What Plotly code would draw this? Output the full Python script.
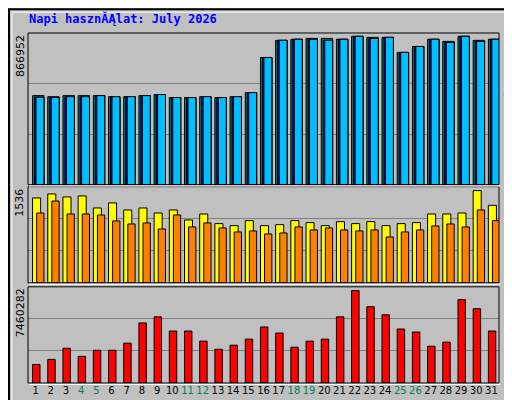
import plotly.graph_objects as go

days = list(range(1, 32))
weekend = [4, 5, 11, 12, 18, 19, 25, 26]
hits = [509000, 503000, 509000, 509000, 509000, 503000, 503000, 509000, 515000, 498000, 498000, 503000, 498000, 503000, 526000,
        727000, 825000, 831000, 836000, 836000, 831000, 848000, 842000, 842000, 756000, 790000, 831000, 819000, 848000, 825000, 831000]
files = [500000, 498000, 503000, 503000, 509000, 503000, 503000, 509000, 515000, 498000, 498000, 503000, 498000, 503000, 526000,
         727000, 825000, 831000, 831000, 825000, 831000, 848000, 836000, 842000, 756000, 790000, 831000, 813000, 848000, 819000, 831000]
visits = [1356, 1420, 1372, 1388, 1196, 1276, 1164, 1196, 1116, 1164, 1004, 1100, 946, 914, 994, 914, 930, 994, 962, 914, 978, 946, 978, 914, 946, 962, 1100, 1100, 1116, 1473, 1238]
pages = [1116, 1307, 1100, 1100, 1084, 989, 941, 957, 861, 1084, 893, 957, 877, 813, 829, 781, 797, 893, 845, 877, 845, 829, 845, 733, 813, 845, 909, 941, 893, 1164, 994]
kbytes = [1439000, 1832000, 2696000, 2068000, 2539000, 2539000, 3089000, 4660000, 5131000, 4031000, 4031000, 3246000, 2618000, 2932000, 3403000, 4346000, 3875000, 2775000, 3246000, 3403000, 5131000, 7172000, 5917000, 5288000, 4188000, 3953000, 2853000, 3168000, 6465000, 5760000, 4031000]
max_top, max_mid, max_bot = 866952, 1536, 7460282

fig = go.Figure()
def bar(y, color, off, w, ya, xa):
    fig.add_trace(go.Bar(x=days, y=y, offset=off, width=w, marker=dict(color=color, line=dict(color="black", width=1)),
                         yaxis=ya, xaxis=xa, showlegend=False, hoverinfo="skip"))
bar(hits, "#00805C", -0.2, 0.75, "y3", "x3")
bar(files, "#0000FF", -0.07, 0.62, "y3", "x3")
bar(files, "#00BFFF", 0.03, 0.52, "y3", "x3")
bar(visits, "#FFFF00", -0.2, 0.53, "y2", "x2")
bar(pages, "#FF8000", 0.07, 0.48, "y2", "x2")
bar(kbytes, "#FF0000", -0.2, 0.49, "y", "x")

ticktext = [f'<span style="color:#00805C">{d}</span>' if d in weekend else str(d) for d in days]
common_x = dict(range=[0.5, 31.5], showgrid=False, zeroline=False, fixedrange=True)
def ya(dom, m):
    return dict(domain=dom, range=[0, m], tickvals=[m / 3, 2 * m / 3], showticklabels=False,
                gridcolor="#808080", zeroline=False, fixedrange=True)
fig.update_layout(
    width=512, height=400, margin=dict(l=20, r=21, t=25, b=22),
    paper_bgcolor="#C0C0C0", plot_bgcolor="#C0C0C0", barmode="overlay",
    font=dict(family="DejaVu Sans Mono", size=11, color="black"),
    xaxis=dict(**common_x, tickvals=days, ticktext=ticktext, ticks="", tickangle=0,
               tickfont=dict(family="DejaVu Sans", size=10), anchor="y"),
    xaxis2=dict(**common_x, showticklabels=False, anchor="y2"),
    xaxis3=dict(**common_x, showticklabels=False, anchor="y3"),
    yaxis=ya([0, 97 / 353], max_bot),
    yaxis2=ya([101 / 353, 198 / 353], max_mid),
    yaxis3=ya([200 / 353, 1], max_top),
)
for (y0, y1) in [(0, 97 / 353), (101 / 353, 198 / 353), (200 / 353, 1)]:
    fig.add_shape(type="rect", xref="paper", yref="paper", x0=0, x1=1, y0=y0, y1=y1, line=dict(color="black", width=1))
    fig.add_shape(type="line", xref="paper", yref="paper", x0=0.002, x1=1.003, y0=y0 - 0.004, y1=y0 - 0.004, line=dict(color="white", width=1))
fig.add_shape(type="rect", xref="paper", yref="paper", x0=-19 / 471, x1=1 + 20 / 471, y0=-21 / 353, y1=1 + 24 / 353, line=dict(color="black", width=2))
fig.add_shape(type="rect", xref="paper", yref="paper", x0=-16 / 471, x1=1 + 17 / 471, y0=-18 / 353, y1=1 + 21 / 353, line=dict(color="white", width=1))

fig.add_annotation(text="<b>Napi hasznĂĄlat: July 2026</b>", xref="paper", yref="paper", x=-1 / 471, y=1 + 15 / 353,
                   xanchor="left", yanchor="middle", showarrow=False, font=dict(color="#0000FF", size=12, family="DejaVu Sans Mono"))
for val, ytop in [("866952", 1), ("1536", 198 / 353), ("7460282", 97 / 353)]:
    fig.add_annotation(text=val, xref="paper", yref="paper", x=-8 / 471, y=ytop, textangle=-90, xanchor="center", yanchor="top",
                       showarrow=False, font=dict(size=11, family="DejaVu Sans"))
right = ('<span style="color:#FF0000">kB F</span> / <span style="color:#0000FF">kB In</span> / '
         '<span style="color:#00805C">kB Out</span> <span style="color:#FF8000">Oldalak</span> / '
         '<span style="color:#FFFF00">LĂĄtogatĂłk</span> / <span style="color:#0000FF">File-ok</span> / '
         '<span style="color:#00805C">TalĂĄlatok</span>')
fig.add_annotation(text=right, xref="paper", yref="paper", x=1 + 9 / 471, y=0, textangle=-90, xanchor="center", yanchor="bottom",
                   showarrow=False, font=dict(size=8, family="DejaVu Sans Mono", color="black"))
fig.write_html("out.html")
